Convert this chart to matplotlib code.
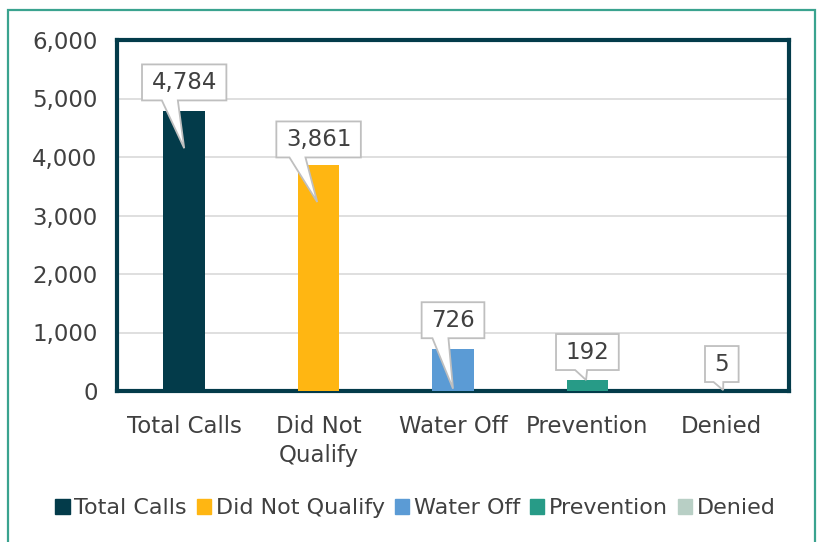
import matplotlib
matplotlib.use("Agg")
import matplotlib.pyplot as plt
from matplotlib.patches import Rectangle, Patch, Polygon
from matplotlib.ticker import FuncFormatter

categories = ["Total Calls", "Did Not Qualify", "Water Off", "Prevention", "Denied"]
tick_labels = ["Total Calls", "Did Not\nQualify", "Water Off", "Prevention", "Denied"]
values = [4784, 3861, 726, 192, 5]
colors = ["#033b4a", "#ffb612", "#5b9bd5", "#279b87", "#b8cfc5"]
# label box centres (data y) for the callouts
label_y = [5275, 4300, 1210, 666, 461]
tip_y = [4150, 3230, 40, 188, 15]
tip_dx = [0.0, -0.01, 0.0, -0.01, 0.01]
relx = [0.33, 0.25, 0.3, 0.4, 0.4]

plt.rcParams['font.family'] = ['DejaVu Sans']
txt = "#404040"
fs = 16.5

fig = plt.figure(figsize=(8.18, 5.42), dpi=100)
ax = fig.add_axes([117/818, 1-391/542, (789-117)/818, (391-40)/542])

x = list(range(len(categories)))
ax.bar(x, values, width=0.31, color=colors, zorder=3)
ax.set_xlim(-0.5, len(categories)-0.5)
ax.set_ylim(0, 6000)
ax.set_yticks(range(0, 6001, 1000))
ax.yaxis.set_major_formatter(FuncFormatter(lambda v, p: f"{int(v):,}"))
ax.grid(axis='y', color='#d9d9d9', linewidth=1.2, zorder=0)
ax.set_xticks(x)
ax.set_xticklabels(tick_labels, linespacing=1.3)
ax.tick_params(axis='both', length=0, labelsize=fs, colors=txt)
ax.tick_params(axis='y', pad=14)
ax.tick_params(axis='x', pad=17.5)
for s in ax.spines.values():
    s.set_color('#033b4a')
    s.set_linewidth(3)

texts = []
for i, v in enumerate(values):
    t = ax.text(i, label_y[i], f"{v:,}", ha='center', va='center',
                fontsize=fs, color=txt, zorder=6)
    texts.append(t)

fig.canvas.draw()
r = fig.canvas.get_renderer()
inv = ax.transData.inverted()
padx, pady = 9.5, 9.5
for i, t in enumerate(texts):
    bb = t.get_window_extent(r)
    cx = (bb.x0 + bb.x1) / 2
    cy = ax.transData.transform((i, label_y[i]))[1]
    th = 17
    x0, x1 = bb.x0 - padx, bb.x1 + padx
    y0, y1 = cy - th/2 - pady, cy + th/2 + pady
    tx, ty = ax.transData.transform((i + tip_dx[i], tip_y[i]))
    L = y0 - ty
    hw = min(8, 0.6 * L)
    bx = x0 + relx[i] * (x1 - x0)
    pts = [(x0, y1), (x1, y1), (x1, y0), (bx + hw, y0), (tx, ty), (bx - hw, y0), (x0, y0)]
    dpts = inv.transform(pts)
    ax.add_patch(Polygon(dpts, closed=True, fc='white', ec='#bfbfbf', lw=1.3,
                         zorder=5, clip_on=False, joinstyle='miter'))

handles = [Patch(color=c) for c in colors]
leg = fig.legend(handles, categories, loc='center', bbox_to_anchor=(0.508, 0.062),
                 ncol=5, frameon=False, fontsize=16, handlelength=0.65, handleheight=0.65,
                 handletextpad=0.2, columnspacing=0.45, labelcolor=txt)

fig.patches.append(Rectangle((8/818, -0.05), (815-8)/818, 1-10/542+0.05,
                             transform=fig.transFigure, fill=False,
                             ec='#3aa38f', lw=1.6))

fig.savefig("out.png", dpi=100)
